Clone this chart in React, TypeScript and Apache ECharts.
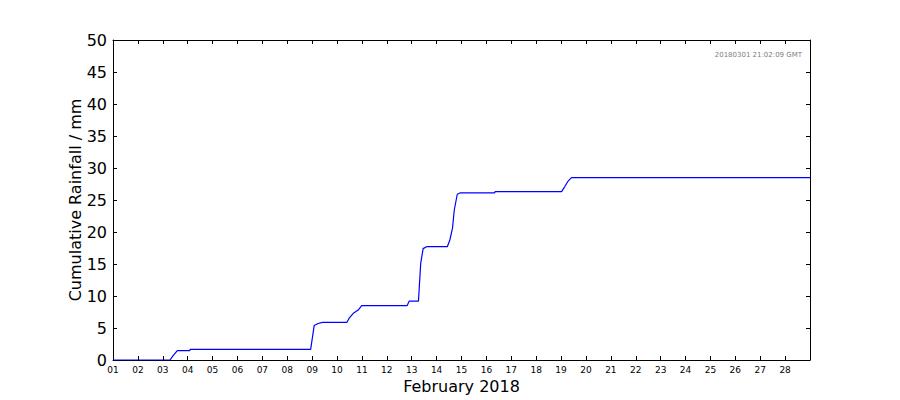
import React, { useEffect, useRef } from "react";
import * as echarts from "echarts";

const times: string[] = [
  "01 00:00", "03 07:00", "03 09:36", "03 14:00", "04 02:00", "04 02:20",
  "08 22:34", "09 02:00", "09 05:45", "09 10:05", "10 09:36", "10 11:30",
  "10 15:40", "10 20:24", "10 23:45", "12 19:40", "12 21:30", "13 06:30",
  "13 08:40", "13 11:00", "13 14:24", "14 10:20", "14 12:45", "14 15:20",
  "14 17:00", "14 19:55", "14 22:30", "16 08:00", "16 08:20", "19 00:30",
  "19 03:35", "19 07:00", "19 10:05", "29 00:00",
];
const rainfall: number[] = [
  0, 0, 0.6, 1.45, 1.45, 1.67,
  1.67, 5.4, 5.7, 5.89, 5.89, 6.5,
  7.3, 7.8, 8.5, 8.5, 9.2, 9.2,
  15.1, 17.4, 17.7, 17.7, 18.75, 20.6,
  23.4, 25.9, 26.1, 26.1, 26.3, 26.3,
  27.1, 28.0, 28.5, 28.5,
];
const dayLabels: string[] = [
  "01", "02", "03", "04", "05", "06", "07", "08", "09", "10", "11", "12", "13", "14",
  "15", "16", "17", "18", "19", "20", "21", "22", "23", "24", "25", "26", "27", "28",
];
const xTitle = "February 2018";
const yTitle = "Cumulative Rainfall / mm";
const stamp = "20180301 21:02:09 GMT";

function toDayOffset(t: string): number {
  const [d, hm] = t.split(" ");
  const [h, m] = hm.split(":").map(Number);
  return Number(d) - 1 + h / 24 + m / 1440;
}

const FONT = "DejaVu Sans";

export default function App() {
  const ref = useRef<HTMLDivElement>(null);
  useEffect(() => {
    if (!ref.current) return;
    const chart = echarts.init(ref.current, undefined, { renderer: "svg" });
    const data = times.map((t, i) => [toDayOffset(t), rainfall[i]]);
    const tick = { show: true, inside: true, length: 4, lineStyle: { color: "#000", width: 1 } };
    chart.setOption({
      animation: false,
      backgroundColor: "#fff",
      textStyle: { fontFamily: FONT },
      grid: {
        left: 113,
        right: 90,
        top: 40,
        bottom: 40,
        containLabel: false,
        outerBoundsMode: "none",
      },
      xAxis: [
        {
          type: "value",
          min: 0,
          max: 28,
          interval: 1,
          position: "bottom",
          axisLine: { show: true, onZero: false, lineStyle: { color: "#000", width: 1 } },
          axisTick: tick,
          splitLine: { show: false },
          axisLabel: {
            color: "#000",
            fontSize: 9,
            fontFamily: FONT,
            margin: 5,
            showMinLabel: true,
            showMaxLabel: false,
            formatter: (v: number) => dayLabels[Math.round(v)] ?? "",
          },
          name: xTitle,
          nameLocation: "middle",
          nameGap: 18,
          nameMoveOverlap: false,
          nameTextStyle: { color: "#000", fontSize: 16, fontFamily: FONT },
        },
        {
          type: "value",
          min: 0,
          max: 28,
          interval: 1,
          position: "top",
          axisLine: { show: true, onZero: false, lineStyle: { color: "#000", width: 1 } },
          axisTick: tick,
          axisLabel: { show: false },
          splitLine: { show: false },
        },
      ],
      yAxis: [
        {
          type: "value",
          min: 0,
          max: 50,
          interval: 5,
          position: "left",
          axisLine: { show: true, onZero: false, lineStyle: { color: "#000", width: 1 } },
          axisTick: tick,
          splitLine: { show: false },
          axisLabel: { color: "#000", fontSize: 16, fontFamily: FONT, margin: 6 },
          name: yTitle,
          nameLocation: "middle",
          nameGap: 30,
          nameRotate: 90,
          nameMoveOverlap: false,
          nameTextStyle: { color: "#000", fontSize: 16, fontFamily: FONT },
        },
        {
          type: "value",
          min: 0,
          max: 50,
          interval: 5,
          position: "right",
          axisLine: { show: true, onZero: false, lineStyle: { color: "#000", width: 1 } },
          axisTick: tick,
          axisLabel: { show: false },
          splitLine: { show: false },
        },
      ],
      graphic: [
        {
          type: "text",
          right: 98,
          top: 51,
          style: { text: stamp, fill: "#808080", fontSize: 7, fontFamily: FONT },
        },
      ],
      series: [
        {
          type: "line",
          data,
          showSymbol: false,
          symbol: "none",
          lineStyle: { color: "#0000ff", width: 1.2 },
          clip: true,
        },
      ],
    });
    return () => chart.dispose();
  }, []);
  return (
    <div
      ref={ref}
      style={{ margin: "-8px 0 0 -8px", width: 900, height: 400, background: "#fff" }}
    />
  );
}
